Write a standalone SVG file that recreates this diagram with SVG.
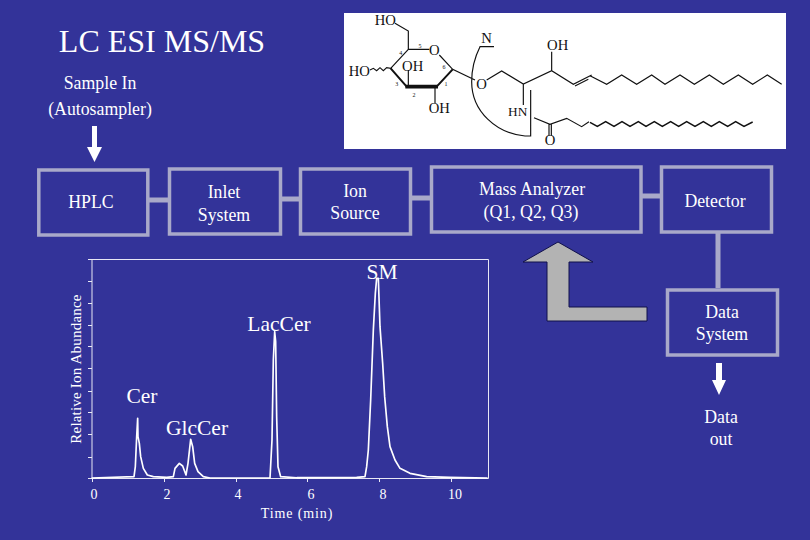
<svg xmlns="http://www.w3.org/2000/svg" width="810" height="540" viewBox="0 0 810 540">
<style>
text{font-family:"Liberation Serif","Times New Roman",serif;fill:#fff;text-anchor:middle}
.t{font-size:17.800px}
.box{fill:none;stroke:#a9a9c9;stroke-width:3.5}
.link{stroke:#a9a9c9;stroke-width:5;fill:none}
.pk{fill:none;stroke:#fff;stroke-width:5;stroke-linejoin:round}
.ax{fill:none;stroke:#e8e8f4;stroke-width:1}
.lab{font-size:21.500px}
.tk{font-size:14px}
.m{fill:none;stroke:#111;stroke-width:3.500}
.mt text{fill:#111;font-size:44px}
.mt .n{font-size:18px}
</style>
<rect width="810" height="540" fill="#333399"/>
<text x="162" y="52" font-size="32">LC ESI MS/MS</text>
<text class="t" x="100" y="89">Sample In</text>
<text class="t" x="100" y="115">(Autosampler)</text>

<g id="molecule">
<rect x="344" y="13" width="442" height="136" fill="#fff"/>
<g transform="translate(340 5) scale(.33333)">
<path class="m" d="M165 55L205 78V133H268M298 150L338 193L405 225M440 225L485 198L550 237L635 197L700 238L755 210M705 243L745 223M635 197V140M550 237V300M572 255V393H555C470 385 395 320 395 230C395 190 405 155 420 125H462M205 245V195M285 245V295M90 195L100 190L110 197L120 188L130 197L140 188L152 190L205 133M627 358V392M634 358V392M582 338L630 358L680 340L725 365L747 350"/>
<path fill="none" stroke="#111" stroke-width="6" d="M152 190L200 245M290 245L338 193"/>
<path fill="none" stroke="#111" stroke-width="11" d="M196 245H294"/>
<g class="mt">
<text x="136" y="60">HO</text>
<text x="218" y="198">OH</text>
<text x="283" y="150">O</text>
<text x="58" y="212">HO</text>
<text x="298" y="325">OH</text>
<text x="425" y="252">O</text>
<text x="440" y="115">N</text>
<text x="653" y="135">OH</text>
<text x="533" y="333" style="font-size:40px">HN</text>
<text x="630" y="420">O</text>
<text class="n" x="240" y="128">5</text>
<text class="n" x="182" y="150">4</text>
<text class="n" x="170" y="242">3</text>
<text class="n" x="222" y="277">2</text>
<text class="n" x="318" y="242">1</text>
<text class="n" x="312" y="192">6</text>
</g>
</g>
<g transform="translate(590 5) scale(.33333)">
<path class="m" d="M0 212L50 238L95 210L140 238L185 210L225 238L270 210L313 238L358 210L400 238L445 210L488 238L532 210L575 238"/>
<path class="m" style="stroke-width:4.500" d="M0 352L22 364L47 350L72 364L96 350L120 364L145 350L168 364L193 350L217 364L242 350L266 364L290 350L315 364L340 350L364 364L388 350L413 364L437 350L462 364L488 351"/>
</g>
</g>

<g id="connectors">
<path class="link" d="M149 200H168M281 199H299M412 198H431M642 196H660M718 233V288"/>
<path d="M92 126h5v21h5l-7.500 15l-7.500-15h5z" fill="#fff"/>
<path d="M716 363h6v17h4l-7 15l-7-15h4z" fill="#fff"/>
<path d="M558 242L593 262H569V307H647V321H547V262H523Z" fill="#b3b3b3" stroke="#10104a" stroke-width="1"/>
</g>

<g id="hplc"><rect class="box" x="38.800" y="170" width="109" height="65"/><text class="t" x="91" y="208">HPLC</text></g>
<g id="inlet"><rect class="box" x="169.500" y="169" width="111" height="65"/><text class="t" x="224" y="198">Inlet</text><text class="t" x="224" y="221">System</text></g>
<g id="ion"><rect class="box" x="300.500" y="169" width="110" height="65"/><text class="t" x="355" y="197">Ion</text><text class="t" x="355" y="219">Source</text></g>
<g id="mass"><rect class="box" x="431.500" y="167" width="209.500" height="65"/><text class="t" x="532" y="195">Mass Analyzer</text><text class="t" x="531" y="218">(Q1, Q2, Q3)</text></g>
<g id="detector"><rect class="box" x="661.500" y="167" width="110" height="65"/><text class="t" x="715" y="207">Detector</text></g>
<g id="data-system"><rect class="box" x="667.500" y="290" width="110" height="65"/><text class="t" x="722" y="318">Data</text><text class="t" x="722" y="340">System</text></g>
<g id="data-out"><text class="t" x="721" y="423">Data</text><text class="t" x="721" y="445">out</text></g>

<g id="chart">
<path class="ax" d="M88 259.500H488.500V478.500H92V259.500M88 281.500h4M88 303.500h4M88 325.500h4M88 346.500h4M88 368.500h4M88 391.500h4M88 412.500h4M88 434.500h4M88 457.500h4M88 478.500h4M92.500 478v4M164.500 478v4M236.500 478v4M307.500 478v4M379.500 478v4M451.500 478v4"/>
<polyline class="pk" transform="translate(60 250) scale(.33333)" points="95,684 222,680 226,650 230,560 233,505 234,560 238,580 242,620 250,655 262,675 280,680 320,682 340,680 345,655 358,640 368,648 378,675 384,640 392,568 398,590 404,640 414,665 430,680 450,684 630,684 636,570 640,330 644,245 647,275 650,500 654,650 662,680 720,684"/>
<polyline class="pk" transform="translate(250 250) scale(.33333)" points="140,683 320,682 345,680 350,650 355,600 362,450 370,240 376,130 380,85 385,85 390,230 398,340 404,440 412,530 420,590 435,630 450,655 480,670 530,680 600,682 713,684"/>
<text font-size="15" transform="translate(81 369) rotate(-90)" letter-spacing=".2">Relative Ion Abundance</text>
<text class="tk" x="94" y="499">0</text><text class="tk" x="167" y="499">2</text><text class="tk" x="238" y="499">4</text><text class="tk" x="311" y="499">6</text><text class="tk" x="383" y="499">8</text><text class="tk" x="455" y="499">10</text>
<text x="297" y="518" font-size="14" letter-spacing=".9">Time (min)</text>
<text class="lab" x="142" y="403">Cer</text>
<text class="lab" x="197" y="435">GlcCer</text>
<text class="lab" x="279" y="331">LacCer</text>
<text class="lab" x="382" y="279">SM</text>
</g>
</svg>
